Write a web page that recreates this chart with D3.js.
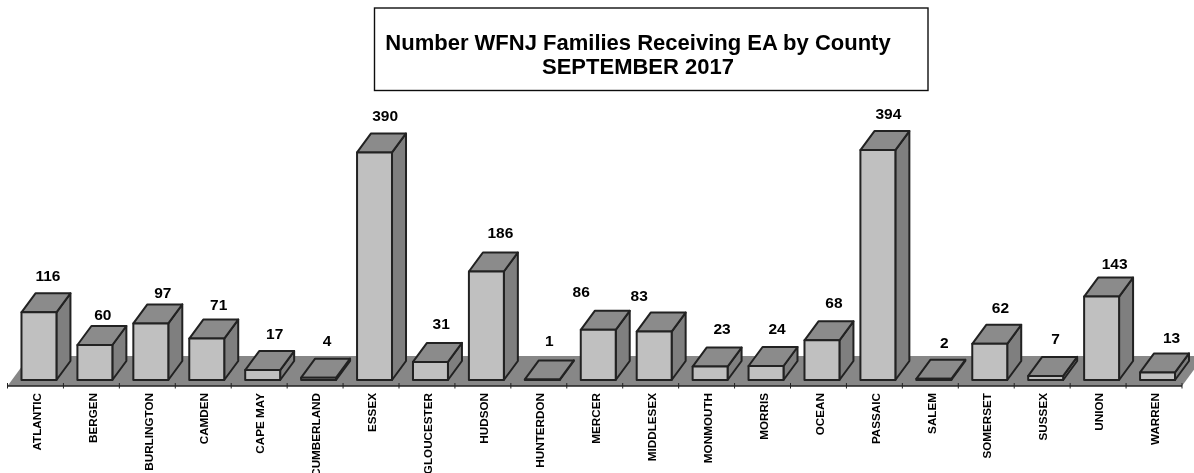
<!DOCTYPE html>
<html>
<head>
<meta charset="utf-8">
<style>html,body{margin:0;padding:0;background:#fff;overflow:hidden}svg{display:block}text{font-family:"Liberation Sans",Arial,sans-serif;font-weight:bold;fill:#000}</style>
<script src="https://cdn.jsdelivr.net/npm/d3@7/dist/d3.min.js"></script>
</head>
<body>
<svg id="chart" width="1194" height="473"></svg>
<script>
const counties = ["ATLANTIC","BERGEN","BURLINGTON","CAMDEN","CAPE MAY","CUMBERLAND","ESSEX","GLOUCESTER","HUDSON","HUNTERDON","MERCER","MIDDLESEX","MONMOUTH","MORRIS","OCEAN","PASSAIC","SALEM","SOMERSET","SUSSEX","UNION","WARREN"];
const families = [116,60,97,71,17,4,390,31,186,1,86,83,23,24,68,394,2,62,7,143,13];
const titleLines = ["Number WFNJ Families Receiving EA by County","SEPTEMBER 2017"];
// hand placement of the value labels in the original, relative to each bar
const labelDx = [9,8,12,12,12,8.5,10.6,10.7,14,7,-17,-15,12,11,12,10.5,10.6,10.7,10,13,14];
const labelDy = [-37,-30,-31.4,-33.6,-37,-36.7,-37.4,-38,-39,-39,-38,-35.6,-37.6,-37,-38,-37,-36,-36,-37,-33.5,-35.4];

const svg = d3.select("#chart");
const defs = svg.append("defs");
defs.append("filter").attr("id","soft").attr("x",0).attr("y",0).attr("width","100%").attr("height","100%")
  .attr("filterUnits","objectBoundingBox")
  .append("feGaussianBlur").attr("stdDeviation",0.45);
const root = svg.append("g").attr("filter","url(#soft)");
root.append("rect").attr("width",1194).attr("height",473).attr("fill","#fff");

const x = d3.scaleBand().domain(counties).range([7.5,1182]);
const y = d3.scaleLinear().domain([0,400]).range([380,146.6]);
const barX = c => x(c) + x.bandwidth()*0.25;
const barW = x.bandwidth()*0.625;
const depthX = 14, depthY = 19;
const floorFront = 386, floorDX = 22, floorDY = 30;
const [x0,x1] = x.range();

// floor
root.append("path")
  .attr("d",d3.line()([[x0,floorFront],[x1,floorFront],[x1+floorDX,floorFront-floorDY],[x0+floorDX,floorFront-floorDY]])+"Z")
  .attr("fill","#878787").attr("stroke","none");
root.append("line").attr("x1",x0).attr("x2",x1).attr("y1",floorFront).attr("y2",floorFront)
  .attr("stroke","#222").attr("stroke-width",1.3);

// tick marks at the band edges
root.append("g").selectAll("line").data(d3.range(counties.length+1)).join("line")
  .attr("x1",i=>x0+i*x.step()).attr("x2",i=>x0+i*x.step())
  .attr("y1",floorFront-3).attr("y2",floorFront+2.5)
  .attr("stroke","#222").attr("stroke-width",1);

// bars
const rows = counties.map((c,i)=>({c,v:families[i],dx:labelDx[i],dy:labelDy[i]}));
const bars = root.append("g").selectAll("g").data(rows).join("g")
  .attr("stroke","#222").attr("stroke-width",2).attr("stroke-linejoin","round");
bars.append("path").attr("fill","#7f7f7f").attr("d",d=>{
  const l=barX(d.c)+barW,t=y(d.v),b=y(0);
  return d3.line()([[l,t],[l+depthX,t-depthY],[l+depthX,b-depthY],[l,b]])+"Z";
});
bars.append("path").attr("fill","#8b8b8b").attr("d",d=>{
  const l=barX(d.c),t=y(d.v);
  return d3.line()([[l,t],[l+depthX,t-depthY],[l+barW+depthX,t-depthY],[l+barW,t]])+"Z";
});
bars.append("rect").attr("fill","#c0c0c0")
  .attr("x",d=>barX(d.c)).attr("width",barW)
  .attr("y",d=>y(d.v)).attr("height",d=>y(0)-y(d.v));

// value labels
root.append("g").selectAll("text").data(rows).join("text")
  .attr("text-anchor","middle").attr("font-size",15.5)
  .attr("x",d=>barX(d.c)+barW/2+d.dx)
  .attr("y",d=>y(d.v)+d.dy+5.5)
  .text(d=>d.v);

// category axis
const axis = root.append("g").attr("transform",`translate(1,${floorFront})`)
  .call(d3.axisBottom(x).tickSize(0).tickPadding(0));
axis.select(".domain").remove();
axis.selectAll("text")
  .attr("font-size",11.7).attr("font-family",'"Liberation Sans",Arial,sans-serif').attr("font-weight","bold")
  .attr("text-anchor","end").attr("dy",null).attr("dominant-baseline",null)
  .attr("y",null)
  .attr("transform","translate(4.2,7) rotate(-90)");

// title box
root.append("rect").attr("x",374.5).attr("y",8).attr("width",553.5).attr("height",82.5)
  .attr("fill","#fff").attr("stroke","#111").attr("stroke-width",1.4);
root.append("g").selectAll("text").data(titleLines).join("text")
  .attr("text-anchor","middle").attr("x",638).attr("y",(d,i)=>49.5+i*24.5)
  .attr("font-size",22).text(d=>d);
</script>
</body>
</html>
